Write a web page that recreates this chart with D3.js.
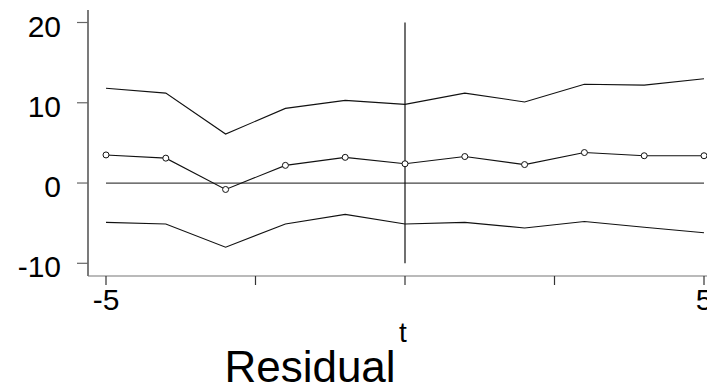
<!DOCTYPE html>
<html>
<head>
<meta charset="utf-8">
<script src="https://cdn.jsdelivr.net/npm/d3@7"></script>
<style>
  body { margin: 0; background: #fff; }
  text { font-family: Arial, "Liberation Sans", sans-serif; fill: #000; }
</style>
</head>
<body>
<div id="chart"></div>
<script>
(function() {
  var w = 707,
      h = 388;

  // data
  var t = [-5, -4, -3, -2, -1, 0, 1, 2, 3, 4, 5];
  var upper = [11.8, 11.2, 6.1, 9.3, 10.3, 9.8, 11.2, 10.1, 12.3, 12.2, 13.0];
  var resid = [3.5, 3.1, -0.8, 2.2, 3.2, 2.4, 3.3, 2.3, 3.8, 3.4, 3.4];
  var lower = [-4.9, -5.1, -8.0, -5.1, -3.9, -5.1, -4.9, -5.6, -4.8, -5.5, -6.2];
  var yTicks = [-10, 0, 10, 20];
  var xTicks = [-5, -2.5, 0, 2.5, 5];
  var xTickLabels = {"-5": "-5", "5": "5"};

  var svg = d3.select("#chart")
    .append("svg")
    .attr("width", w)
    .attr("height", h)

  var x = d3.scaleLinear().domain([-5, 5]).range([106, 704])
  var y = d3.scaleLinear().domain([-10, 20]).range([263.3, 22.5])

  // y axis
  svg.append("line")
    .attr("x1", 88).attr("x2", 88)
    .attr("y1", 10).attr("y2", 276)
    .attr("stroke", "#222").attr("stroke-width", 1.2)

  svg.selectAll(".ytick")
    .data(yTicks)
    .enter().append("line")
    .attr("class", "ytick")
    .attr("x1", 77).attr("x2", 88)
    .attr("y1", function(d) { return y(d) })
    .attr("y2", function(d) { return y(d) })
    .attr("stroke", "#666").attr("stroke-width", 1.2)

  svg.selectAll(".ylab")
    .data(yTicks)
    .enter().append("text")
    .attr("class", "ylab")
    .attr("x", 61)
    .attr("y", function(d) { return y(d) + 14 })
    .attr("text-anchor", "end")
    .attr("font-size", 30)
    .text(function(d) { return d })

  // x axis
  svg.append("line")
    .attr("x1", 88).attr("x2", w)
    .attr("y1", 276).attr("y2", 276)
    .attr("stroke", "#777").attr("stroke-width", 1.2)

  svg.selectAll(".xtick")
    .data(xTicks)
    .enter().append("line")
    .attr("class", "xtick")
    .attr("x1", function(d) { return x(d) })
    .attr("x2", function(d) { return x(d) })
    .attr("y1", 276).attr("y2", 285)
    .attr("stroke", "#333").attr("stroke-width", 1.2)

  svg.selectAll(".xlab")
    .data(xTicks.filter(function(d) { return xTickLabels[d] }))
    .enter().append("text")
    .attr("class", "xlab")
    .attr("x", function(d) { return x(d) })
    .attr("y", 310)
    .attr("text-anchor", "middle")
    .attr("font-size", 30)
    .text(function(d) { return xTickLabels[d] })

  svg.append("text")
    .attr("x", 403).attr("y", 342)
    .attr("text-anchor", "middle")
    .attr("font-size", 28)
    .text("t")

  svg.append("text")
    .attr("x", 310).attr("y", 382)
    .attr("text-anchor", "middle")
    .attr("font-size", 44)
    .text("Residual")

  // reference lines
  svg.append("line")
    .attr("x1", x(-5)).attr("x2", x(5))
    .attr("y1", y(0)).attr("y2", y(0))
    .attr("stroke", "#444").attr("stroke-width", 1.2)

  svg.append("line")
    .attr("x1", x(0)).attr("x2", x(0))
    .attr("y1", y(20)).attr("y2", y(-10))
    .attr("stroke", "#111").attr("stroke-width", 1.2)

  var line = d3.line()
    .x(function(d, i) { return x(t[i]) })
    .y(function(d) { return y(d) })

  ;[upper, resid, lower].forEach(function(s) {
    svg.append("path")
      .attr("d", line(s))
      .attr("fill", "none")
      .attr("stroke", "#111")
      .attr("stroke-width", 1.1)
  })

  svg.selectAll(".pt")
    .data(resid)
    .enter().append("circle")
    .attr("class", "pt")
    .attr("cx", function(d, i) { return x(t[i]) })
    .attr("cy", function(d) { return y(d) })
    .attr("r", 3)
    .attr("fill", "#fff")
    .attr("stroke", "#111")
    .attr("stroke-width", 1)
})();
</script>
</body>
</html>
